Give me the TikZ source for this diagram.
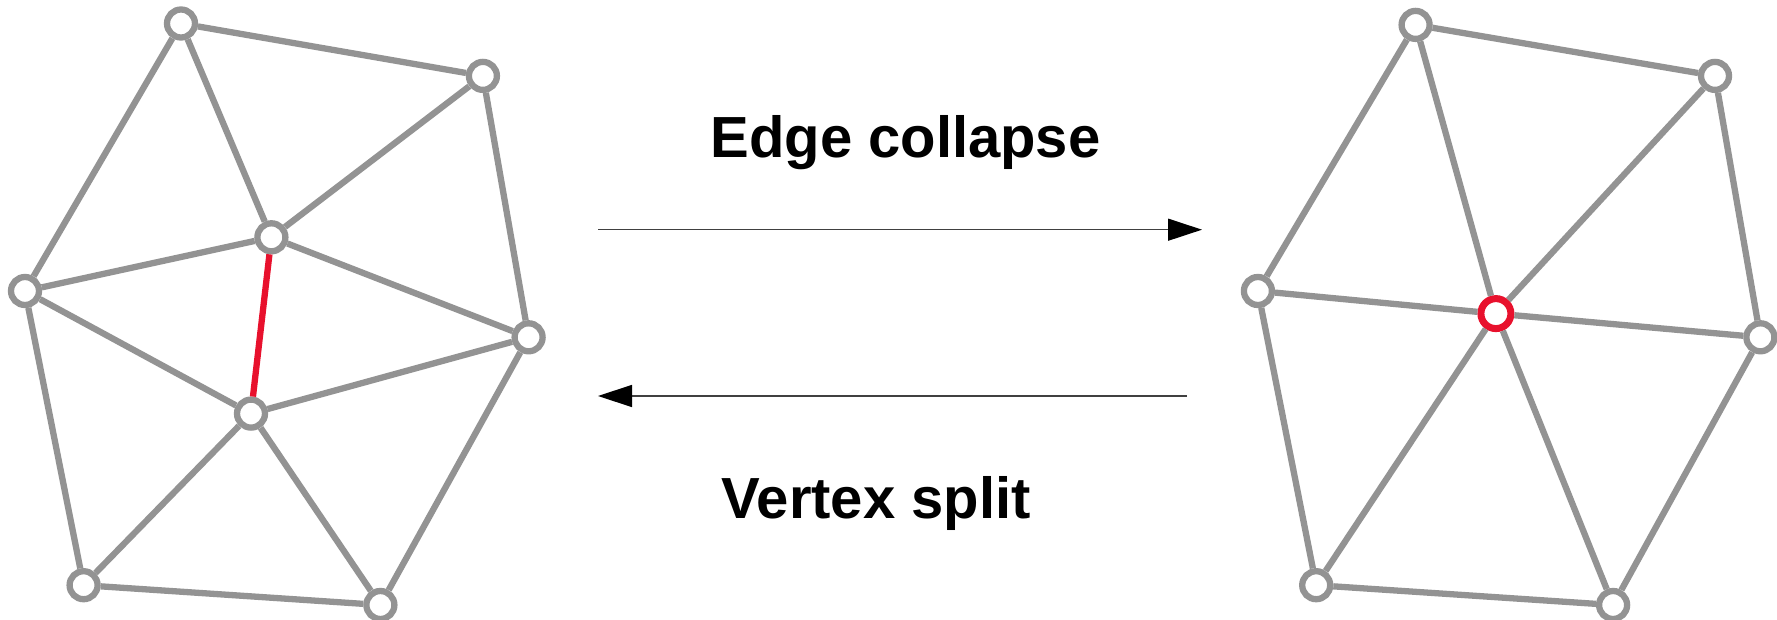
\documentclass[tikz,border=0pt]{standalone}
\usepackage{fontspec}
\setmainfont{Liberation Sans}
\usetikzlibrary{arrows.meta}
\definecolor{edgegray}{RGB}{147,147,147}
\definecolor{hired}{RGB}{232,17,45}
\tikzset{
  vtx/.style={circle,draw=edgegray,line width=6.3pt,fill=white,minimum size=28pt,inner sep=0pt},
  redvtx/.style={vtx,draw=hired,line width=7pt,minimum size=30pt},
  edg/.style={draw=edgegray,line width=6.3pt},
  rededg/.style={draw=hired,line width=6.3pt},
  arr/.style={line width=1.4pt,draw=black!75,-{Triangle[length=34pt,width=22pt,color=black]}},
  lbl/.style={font=\fontsize{58}{62}\selectfont\bfseries,anchor=base,inner sep=0pt}
}
\begin{document}
\begin{tikzpicture}[x=1pt,y=-1pt]
\useasboundingbox (0,0) rectangle (1777,620);
% left mesh
\node[vtx] (A) at (181,23.5) {};
\node[vtx] (B) at (482.9,75.9) {};
\node[vtx] (C) at (271.4,237.3) {};
\node[vtx] (D) at (25,291) {};
\node[vtx] (E) at (528.6,337.3) {};
\node[vtx] (F) at (251,413.6) {};
\node[vtx] (G) at (83.6,585.2) {};
\node[vtx] (H) at (380.4,605) {};
\draw[edg] (A) -- (B);
\draw[edg] (A) -- (C);
\draw[edg] (A) -- (D);
\draw[edg] (B) -- (C);
\draw[edg] (B) -- (E);
\draw[edg] (C) -- (D);
\draw[edg] (C) -- (E);
\draw[rededg] (C) -- (F);
\draw[edg] (D) -- (F);
\draw[edg] (D) -- (G);
\draw[edg] (E) -- (F);
\draw[edg] (E) -- (H);
\draw[edg] (F) -- (G);
\draw[edg] (F) -- (H);
\draw[edg] (G) -- (H);
% right mesh
\node[vtx] (A2) at (1415.6,24.9) {};
\node[vtx] (B2) at (1715,75.9) {};
\node[vtx] (D2) at (1257.9,291) {};
\node[redvtx] (M) at (1495.9,313.6) {};
\node[vtx] (E2) at (1760.4,337.3) {};
\node[vtx] (G2) at (1316.2,585.2) {};
\node[vtx] (H2) at (1613.1,605) {};
\draw[edg] (A2) -- (B2);
\draw[edg] (A2) -- (M);
\draw[edg] (A2) -- (D2);
\draw[edg] (B2) -- (M);
\draw[edg] (B2) -- (E2);
\draw[edg] (D2) -- (M);
\draw[edg] (M) -- (E2);
\draw[edg] (D2) -- (G2);
\draw[edg] (M) -- (G2);
\draw[edg] (M) -- (H2);
\draw[edg] (E2) -- (H2);
\draw[edg] (G2) -- (H2);
% arrows
\coordinate (t1) at (598,229.7);
\coordinate (t2) at (1202,229.7);
\coordinate (b1) at (1187,396);
\coordinate (b2) at (598,396);
\draw[arr] (t1) -- (t2);
\draw[arr] (b1) -- (b2);
% labels
\node[lbl] (l1) at (905.5,157.7) {Edge collapse};
\node[lbl] (l2) at (876,518.3) {Vertex split};
\end{tikzpicture}
\end{document}
